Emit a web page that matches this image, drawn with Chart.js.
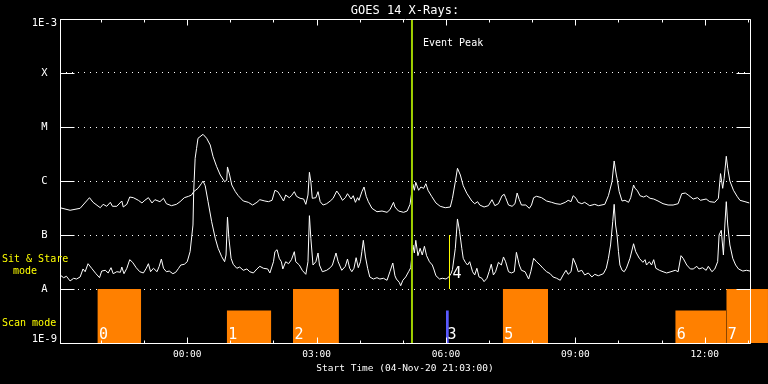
<!DOCTYPE html>
<html><head><meta charset="utf-8">
<script src="https://cdn.jsdelivr.net/npm/chart.js@4/dist/chart.umd.min.js"></script>
<style>html,body{margin:0;padding:0;background:#000;}canvas{display:block;}</style>
</head><body>
<canvas id="c" width="768" height="384"></canvas>
<script>
// Time in minutes after start (21:03:00), flux in W/m^2
const longTimes = [0,14,28,32,41,46,56,60,65,70,73,79,86,88,93,97,102,109,114,118,123,128,132,139,144,148,155,162,167,173,179,183,186,188,190,192,199,204,209,213,218,223,229,232,233,236,239,244,248,255,262,268,274,278,285,290,295,299,303,306,311,314,319,322,326,329,334,339,342,345,347,349,351,356,359,362,366,371,376,380,385,389,393,397,400,405,408,411,414,416,420,423,426,429,434,441,448,455,459,464,466,471,478,483,487,491,493,495,499,502,506,509,512,517,523,529,536,543,546,550,553,557,561,566,573,577,581,584,590,596,601,605,610,615,618,620,624,629,633,636,639,642,648,653,656,659,663,670,677,684,690,696,703,707,711,714,718,721,726,730,737,744,749,758,763,768,771,774,775,778,782,786,791,794,798,800,803,807,812,816,821,826,832,839,846,853,860,865,870,874,881,887,891,899,904,911,916,919,922,924,927,929,932,937,942,946,953,959];
const longFlux = [3.2e-7,2.87e-7,3.12e-7,3.59e-7,4.91e-7,4.03e-7,3.2e-7,3.7e-7,3.4e-7,4.03e-7,3.4e-7,3.4e-7,4.26e-7,3.3e-7,3.7e-7,5.05e-7,4.91e-7,4.39e-7,3.92e-7,4.39e-7,4.91e-7,3.92e-7,4.51e-7,4.14e-7,4.78e-7,3.8e-7,3.49e-7,3.7e-7,4.14e-7,4.91e-7,5.21e-7,5.5e-7,6.34e-7,2.63e-6,4.03e-6,6.18e-6,7.32e-6,6.18e-6,4.64e-6,2.82e-6,1.84e-6,1.29e-6,9.7e-7,1.04e-6,1.82e-6,1.29e-6,8.43e-7,6.34e-7,5.34e-7,4.26e-7,4.03e-7,3.59e-7,4.03e-7,4.51e-7,4.26e-7,4.14e-7,4.39e-7,6.73e-7,6.34e-7,5.5e-7,4.26e-7,5.5e-7,4.91e-7,5.34e-7,6.34e-7,5.21e-7,4.78e-7,4.64e-7,3.7e-7,5.5e-7,1.45e-6,9.7e-7,4.78e-7,4.91e-7,6.34e-7,4.14e-7,3.59e-7,3.8e-7,4.26e-7,4.78e-7,6.53e-7,5.5e-7,4.39e-7,4.91e-7,5.82e-7,4.64e-7,5.34e-7,4.03e-7,4.91e-7,4.39e-7,6.34e-7,7.74e-7,5.21e-7,4.14e-7,3.12e-7,2.7e-7,2.78e-7,2.63e-7,2.94e-7,4.03e-7,3.3e-7,2.78e-7,2.63e-7,2.78e-7,3.7e-7,8.69e-7,6.73e-7,9.46e-7,6.73e-7,7.74e-7,7.32e-7,8.91e-7,6.73e-7,5.21e-7,3.92e-7,3.4e-7,3.2e-7,3.3e-7,4.78e-7,9.7e-7,1.72e-6,1.29e-6,8.18e-7,5.92e-7,4.26e-7,3.8e-7,4.14e-7,3.59e-7,3.3e-7,3.49e-7,4.51e-7,3.49e-7,3.8e-7,5.34e-7,5.67e-7,4.91e-7,3.59e-7,3.4e-7,3.8e-7,5.99e-7,4.51e-7,3.59e-7,3.59e-7,3.12e-7,3.59e-7,4.91e-7,5.21e-7,4.91e-7,4.26e-7,4.03e-7,3.8e-7,3.7e-7,4.03e-7,4.39e-7,4.14e-7,5.34e-7,4.78e-7,4.03e-7,3.8e-7,4.03e-7,3.49e-7,3.7e-7,3.49e-7,3.7e-7,5.34e-7,9.7e-7,2.35e-6,1.29e-6,1.12e-6,6.34e-7,4.26e-7,4.39e-7,4.03e-7,4.91e-7,8.43e-7,7.32e-7,6.73e-7,5.34e-7,5.05e-7,5.34e-7,4.78e-7,4.64e-7,4.26e-7,3.8e-7,3.59e-7,3.59e-7,3.8e-7,5.82e-7,5.99e-7,5.5e-7,4.64e-7,4.91e-7,4.39e-7,4.64e-7,4.14e-7,4.03e-7,4.78e-7,1.37e-6,7.32e-7,1.12e-6,2.87e-6,1.72e-6,1.0e-6,6.73e-7,5.21e-7,4.39e-7,4.14e-7,3.92e-7];
const shortTimes = [0,5,9,14,19,23,28,32,35,39,44,50,55,58,63,67,71,74,79,84,86,89,93,97,101,106,111,116,120,123,126,130,135,138,141,144,148,152,157,161,165,168,173,177,181,185,186,189,192,197,199,202,206,211,216,220,225,229,231,233,235,238,241,246,250,255,260,264,269,274,278,283,289,292,297,299,302,305,308,310,314,318,322,326,328,333,337,342,345,347,349,352,356,359,361,365,371,376,379,384,387,392,397,400,403,406,409,412,415,418,420,422,425,428,431,436,441,445,450,455,459,463,466,468,472,474,477,481,485,488,491,493,495,498,501,504,507,510,514,518,520,523,528,532,537,541,544,546,550,553,556,559,561,564,567,570,574,577,580,583,587,590,594,597,600,603,606,610,614,617,620,624,628,632,635,639,642,647,652,655,659,663,668,672,677,682,686,691,696,700,704,707,711,714,718,721,726,730,735,740,744,749,756,760,763,766,769,771,773,775,777,779,782,785,788,793,798,801,806,811,814,816,820,823,826,829,834,839,844,850,856,860,864,867,872,877,881,886,889,894,899,902,907,911,915,917,920,923,925,927,929,932,936,940,944,950,955,960];
const shortFlux = [1.82e-8,1.62e-8,1.72e-8,1.41e-8,1.58e-8,1.53e-8,1.67e-8,2.35e-8,2.09e-8,2.94e-8,2.42e-8,1.92e-8,1.62e-8,2.15e-8,2.22e-8,1.98e-8,2.48e-8,1.92e-8,2.09e-8,2.04e-8,2.55e-8,1.92e-8,2.42e-8,3.49e-8,3.12e-8,2.48e-8,2.09e-8,1.98e-8,2.42e-8,2.94e-8,2.09e-8,2.42e-8,2.09e-8,2.63e-8,3.59e-8,2.42e-8,2.09e-8,2.15e-8,1.92e-8,2.04e-8,2.42e-8,2.78e-8,2.87e-8,3.2e-8,4.91e-8,1.53e-7,6.34e-7,6.81e-7,7.32e-7,9.07e-7,1.0e-6,8.18e-7,4.14e-7,1.76e-7,8.69e-8,5.67e-8,3.96e-8,3.2e-8,4.26e-8,2.15e-7,8.69e-8,3.7e-8,2.87e-8,2.42e-8,2.55e-8,2.22e-8,2.35e-8,2.09e-8,1.98e-8,2.35e-8,2.63e-8,2.42e-8,2.35e-8,1.98e-8,3.2e-8,4.91e-8,5.34e-8,3.7e-8,3.2e-8,2.35e-8,3.2e-8,2.94e-8,3.49e-8,4.91e-8,3.2e-8,2.78e-8,2.22e-8,1.87e-8,3.2e-8,2.28e-7,8.69e-8,2.78e-8,3.2e-8,4.64e-8,2.78e-8,2.09e-8,2.22e-8,2.48e-8,2.78e-8,4.64e-8,3.2e-8,2.22e-8,2.63e-8,3.59e-8,2.42e-8,2.09e-8,2.42e-8,3.8e-8,2.48e-8,3.2e-8,4.91e-8,7.97e-8,3.92e-8,2.42e-8,1.67e-8,1.53e-8,1.62e-8,1.53e-8,1.58e-8,1.45e-8,2.09e-8,3.03e-8,1.76e-8,1.53e-8,1.33e-8,1.15e-8,1.45e-8,1.67e-8,2.09e-8,2.48e-8,6.53e-8,4.64e-8,7.97e-8,4.14e-8,5.67e-8,4.26e-8,6.18e-8,4.14e-8,3.2e-8,2.78e-8,2.35e-8,1.76e-8,1.53e-8,1.58e-8,1.53e-8,1.67e-8,1.92e-8,2.28e-8,5.67e-8,1.98e-7,1.15e-7,5.67e-8,3.7e-8,3.12e-8,2.78e-8,3.2e-8,2.09e-8,1.82e-8,2.42e-8,1.67e-8,1.58e-8,1.37e-8,1.58e-8,2.09e-8,2.87e-8,1.82e-8,2.09e-8,3.12e-8,2.78e-8,3.92e-8,3.2e-8,2.09e-8,1.98e-8,2.09e-8,4.78e-8,2.78e-8,2.22e-8,2.09e-8,1.53e-8,2.09e-8,3.7e-8,3.2e-8,2.78e-8,2.42e-8,2.09e-8,1.92e-8,1.67e-8,1.58e-8,1.45e-8,1.82e-8,2.22e-8,1.87e-8,2.09e-8,3.7e-8,2.78e-8,2.09e-8,2.22e-8,1.82e-8,1.98e-8,1.67e-8,1.87e-8,1.76e-8,1.92e-8,2.42e-8,3.7e-8,6.53e-8,1.76e-7,3.7e-7,1.53e-7,1.0e-7,4.91e-8,2.78e-8,2.22e-8,2.09e-8,2.42e-8,3.7e-8,6.89e-8,4.91e-8,3.7e-8,3.12e-8,3.49e-8,2.78e-8,3.2e-8,2.78e-8,3.49e-8,2.42e-8,2.22e-8,2.09e-8,1.98e-8,2.09e-8,2.22e-8,2.09e-8,4.14e-8,3.7e-8,2.78e-8,2.35e-8,2.35e-8,2.63e-8,2.35e-8,2.48e-8,2.22e-8,2.63e-8,2.09e-8,2.35e-8,3.2e-8,1.0e-7,1.22e-7,4.26e-8,1.53e-7,4.14e-7,1.53e-7,6.53e-8,3.7e-8,2.78e-8,2.35e-8,2.15e-8,2.22e-8,2.15e-8];

const levelValues = [1e-9,1e-8,1e-7,1e-6,1e-5,1e-4,1e-3];
const levelLabels = ['1E-9','A','B','C','M','X','1E-3'];
const hourTicks = [57,117,177,237,297,357,417,477,537,597,657,717,777,837,897,957];
const majorTicks = [177,357,537,717,897];
const majorLabels = ['00:00','03:00','06:00','09:00','12:00'];

const modeIds = ['0','1','2','3','5','6','7'];
const modeStart = [52,232,324,537,616,856,927];
const modeEnd = [113,294,388,541,679,927,985];
const modeLevel = [1e-8,4e-9,1e-8,4e-9,1e-8,4e-9,1e-8];
const modeColors = ['#ff8000','#ff8000','#ff8000','#5a5aff','#ff8000','#ff8000','#ff8000'];

const stareId = '4';
const stareTime = 541.9;
const stareRange = [1e-8,1e-7];
const eventPeakTime = 489.7;

const titleText = 'GOES 14 X-Rays:';
const xTitle = 'Start Time (04-Nov-20 21:03:00)';
const MONO = "'DejaVu Sans Mono', monospace";

const datasets = [
  {label:'long', data: longTimes.map((t,i)=>({x:t,y:longFlux[i]})), borderColor:'#fff', borderWidth:1, pointRadius:0, fill:false, order:3},
  {label:'short', data: shortTimes.map((t,i)=>({x:t,y:shortFlux[i]})), borderColor:'#fff', borderWidth:1, pointRadius:0, fill:false, order:3},
  {label:'peak', data:[{x:eventPeakTime,y:levelValues[0]},{x:eventPeakTime,y:levelValues[6]}], borderColor:'#9fd000', borderWidth:2, pointRadius:0, fill:false, order:1},
  {label:'stare', data:[{x:stareTime,y:stareRange[0]},{x:stareTime,y:stareRange[1]}], borderColor:'#ffff00', borderWidth:1, pointRadius:0, fill:false, order:2}
];
modeIds.forEach((id,i)=>{
  datasets.push({label:'mode'+id, data:[{x:modeStart[i],y:modeLevel[i]},{x:modeEnd[i],y:modeLevel[i]}],
    borderWidth:0, borderColor:modeColors[i], backgroundColor:modeColors[i], pointRadius:0, fill:'start', clip:false, order:10});
});

const decor = {
  id:'decor',
  beforeDraw(chart){
    const c = chart.ctx; c.save(); c.fillStyle='#000'; c.fillRect(0,0,chart.width,chart.height); c.restore();
  },
  afterDatasetsDraw(chart){
    const c = chart.ctx, a = chart.chartArea, xs = chart.scales.x, ys = chart.scales.y;
    c.save();
    const last = modeIds.length-1;
    if (modeEnd[last] > xs.max) {
      c.fillStyle = modeColors[last];
      const x0 = a.right, x1 = xs.getPixelForValue(modeEnd[last]);
      const yt = ys.getPixelForValue(modeLevel[last]);
      c.fillRect(x0, yt, x1-x0, a.bottom-yt);
    }
    c.strokeStyle='#fff'; c.lineWidth=1;
    const L=Math.round(a.left)+0.5, R=Math.round(a.right)+0.5, T=Math.round(a.top)+0.5, B=Math.round(a.bottom)+0.5;
    c.beginPath();
    c.moveTo(L,T); c.lineTo(R,T); c.lineTo(R,B); c.lineTo(L,B); c.closePath();
    levelValues.forEach(v=>{
      const yy = Math.round(ys.getPixelForValue(v))+0.5;
      c.moveTo(L,yy); c.lineTo(L+14,yy);
      c.moveTo(R-14,yy); c.lineTo(R,yy);
    });
    hourTicks.forEach(t=>{
      const xx = Math.round(xs.getPixelForValue(t))+0.5;
      const len = majorTicks.includes(t) ? 6 : 3;
      c.moveTo(xx,B); c.lineTo(xx,B-len);
      c.moveTo(xx,T); c.lineTo(xx,T+len);
    });
    c.stroke();
    c.fillStyle='#fff';
    c.textBaseline='alphabetic'; c.textAlign='left';
    c.font = '15px '+MONO;
    const yb = ys.getPixelForValue(levelValues[0]);
    modeIds.forEach((id,i)=>{
      c.fillText(id, xs.getPixelForValue(modeStart[i])+1.5, yb-4);
    });
    c.fillText(stareId, xs.getPixelForValue(stareTime)+3, ys.getPixelForValue(stareRange[0])-11);
    c.font = '10px '+MONO; c.textBaseline='middle';
    c.fillText('Event Peak', xs.getPixelForValue(eventPeakTime)+11, 43);
    c.fillStyle='#ffff00';
    c.fillText('Sit & Stare', 2, 259);
    c.fillText('mode', 13, 271);
    c.fillText('Scan mode', 2, 323);
    c.restore();
  }
};

new Chart(document.getElementById('c'), {
  type:'line',
  data:{datasets},
  plugins:[decor],
  options:{
    responsive:false, animation:false, devicePixelRatio:1,
    layout:{padding:{left:0,right:18,top:0,bottom:0}},
    plugins:{
      legend:{display:false}, tooltip:{enabled:false},
      title:{display:true, text:titleText, color:'#fff', fullSize:false,
        font:{family:MONO, size:12, weight:'normal'}, padding:{top:3.5,bottom:1.1}}
    },
    scales:{
      x:{type:'linear', position:'bottom', min:0, max:960,
        afterBuildTicks:s=>{ s.ticks = hourTicks.map(v=>({value:v})); },
        afterFit:s=>{ s.height = 41; },
        grid:{display:false, drawTicks:false}, border:{display:false},
        ticks:{color:'#fff', font:{family:MONO, size:9.5}, padding:6, maxRotation:0, minRotation:0, autoSkip:false,
          callback:v=>{ const i = majorTicks.indexOf(v); return i>=0 ? majorLabels[i] : ''; }},
        title:{display:true, text:xTitle, color:'#fff', font:{family:MONO, size:9.5}, padding:{top:0,bottom:10}}
      },
      y:{type:'logarithmic', position:'left', min:1e-9, max:1e-3,
        afterBuildTicks:s=>{ s.ticks = levelValues.map(v=>({value:v})); },
        afterFit:s=>{ s.width = 60; },
        grid:{color:'#fff', lineWidth:1, drawTicks:false},
        border:{display:false, dash:[1,5]},
        ticks:{color:'#fff', font:{family:MONO, size:10.5, lineHeight:0.8}, padding:3, crossAlign:'center', autoSkip:false,
          callback:v=>{
            const i = levelValues.findIndex(l=>Math.abs(Math.log10(l)-Math.log10(v))<1e-6);
            if (i<0) return '';
            if (i===levelValues.length-1) return ['', levelLabels[i]];
            if (i===0) return [levelLabels[i], ''];
            return levelLabels[i];
          }}
      }
    }
  }
});
</script>
</body></html>
